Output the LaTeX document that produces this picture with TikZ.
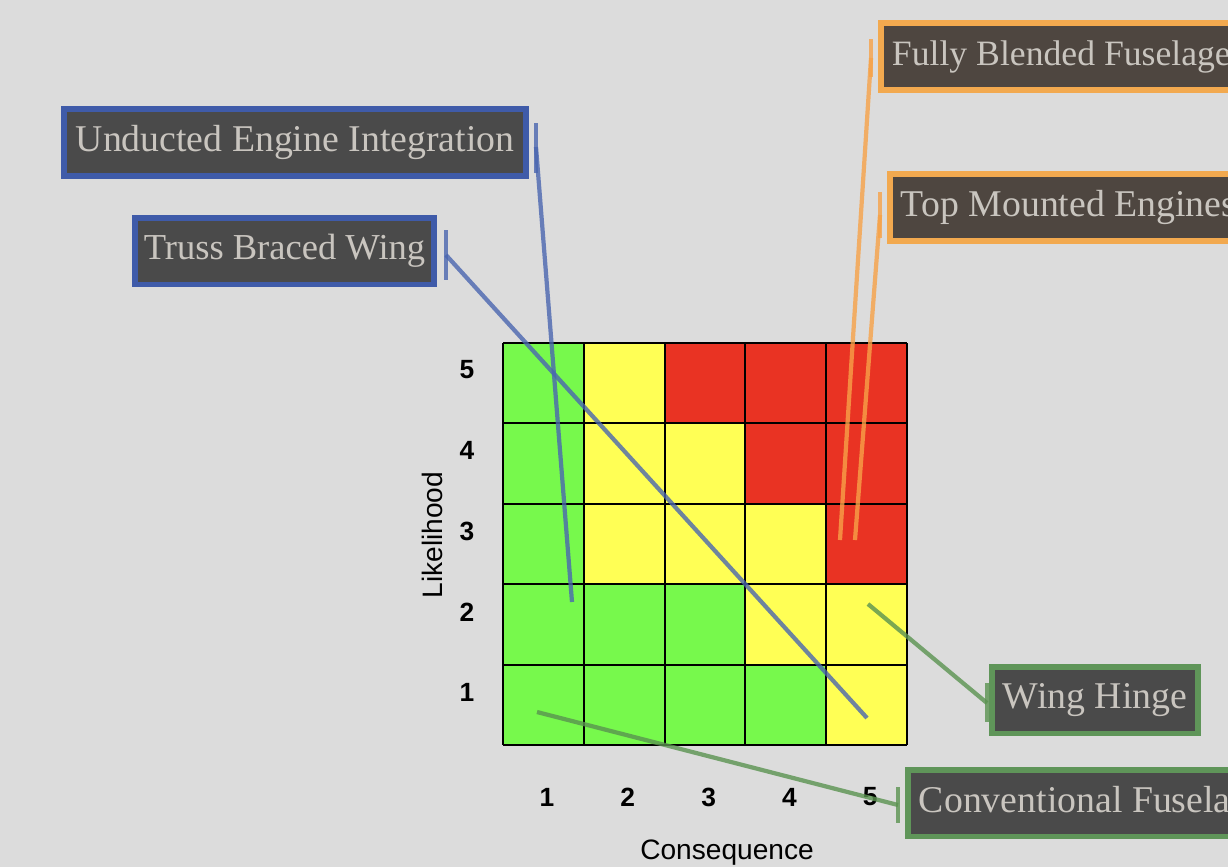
\documentclass[tikz,border=0pt]{standalone}
\usepackage{fontspec}
\setmainfont{Liberation Serif}
\setsansfont{Liberation Sans}
\usetikzlibrary{positioning}

\definecolor{bggrey}{HTML}{DCDCDC}
\definecolor{tagdark}{HTML}{4A4A4A}
\definecolor{tagbrown}{HTML}{4E4640}
\definecolor{tagtext}{HTML}{C9C5BF}
\definecolor{tagblue}{HTML}{3F5BA9}
\definecolor{tagorange}{HTML}{F2A94F}
\definecolor{taggreen}{HTML}{5F9559}
\definecolor{linkblue}{HTML}{4A66B0}
\definecolor{linkorange}{HTML}{F7A248}
\definecolor{linkgreen}{HTML}{5A9350}
\definecolor{riskG}{HTML}{77F94C}
\definecolor{riskY}{HTML}{FFFF55}
\definecolor{riskR}{HTML}{E93323}

\begin{document}
\begin{tikzpicture}[x=0.02cm, y=-0.02cm,
		tag/.style={draw, line width=3.4pt, text=tagtext, font=\fontsize{21.5}{24}\selectfont, minimum height=1.34cm, inner xsep=0.22cm, inner ysep=0pt},
		bluetag/.style={tag, draw=tagblue, fill=tagdark},
		orangetag/.style={tag, draw=tagorange, fill=tagbrown},
		greentag/.style={tag, draw=taggreen, fill=tagdark},
		link/.style={line width=2.4pt, opacity=0.8},
		bluelink/.style={link, draw=linkblue},
		orangelink/.style={link, draw=linkorange},
		greenlink/.style={link, draw=linkgreen},
		axisnum/.style={font=\sffamily\bfseries\fontsize{15}{17}\selectfont},
		axislabel/.style={font=\sffamily\fontsize{16}{18}\selectfont}
	]

	\useasboundingbox (0,0) rectangle (1228,867);
	\clip (0,0) rectangle (1228,867);
	\fill[bggrey] (0,0) rectangle (1228,867);

	% risk matrix, top row first
	\foreach \row/\cols in {0/{G,Y,R,R,R}, 1/{G,Y,Y,R,R}, 2/{G,Y,Y,Y,R}, 3/{G,G,G,Y,Y}, 4/{G,G,G,G,Y}}{
		\foreach \c [count=\i from 0] in \cols{
			\fill[risk\c] (503+80.8*\i,343+80.4*\row) rectangle ++(80.8,80.4);
		}
	}
	\foreach \i in {0,...,5}{
		\draw[line width=1.2pt] (503+80.8*\i,343) -- (503+80.8*\i,745);
		\draw[line width=1.2pt] (503,343+80.4*\i) -- (907,343+80.4*\i);
	}

	% axes
	\foreach \n [count=\i from 0] in {5,4,3,2,1}{
		\node[axisnum] (like\n) at (467,370+80.6*\i) {\n};
	}
	\foreach \n [count=\i from 0] in {1,2,3,4,5}{
		\node[axisnum] (cons\n) at (547+80.8*\i,797) {\n};
	}
	\node[axislabel, rotate=90] (likelihood) at (432,535) {Likelihood};
	\node[axislabel] (consequence) at (727,853) {Consequence};

	% labels
	\node[bluetag, minimum width=9.24cm] (ue) at (295,142.5) {Unducted Engine Integration};
	\node[bluetag, minimum width=5.98cm, inner xsep=0.1cm, font=\fontsize{20.8}{24}\selectfont] (tb) at (284.5,251) {Truss Braced Wing};
	\node[orangetag, anchor=west, font=\fontsize{20.3}{24}\selectfont] (fb) at (878,56.5) {Fully Blended Fuselage};
	\node[orangetag, anchor=west] (tm) at (887,207.5) {Top Mounted Engines};
	\node[greentag, minimum width=4.08cm] (wh) at (1095,700) {Wing Hinge};
	\node[greentag, anchor=west] (cf) at (905,803) {Conventional Fuselage};

	% connector ends
	\coordinate (ue-t) at (536,147);
	\coordinate (tb-t) at (446,255);
	\coordinate (fb-t) at (871,58);
	\coordinate (tm-t) at (880,215);
	\coordinate (wh-t) at (987,703);
	\coordinate (cf-t) at (898,805);
	\coordinate (ue-p) at (572,602);
	\coordinate (tb-p) at (867,718);
	\coordinate (fb-p) at (840,540);
	\coordinate (tm-p) at (855,540);
	\coordinate (wh-p) at (868,604);
	\coordinate (cf-p) at (537,712);

	% connectors
	\draw[bluelink] (ue-t) ++(0,-24) -- ++(0,50);
	\draw[bluelink] (ue-t) -- (ue-p);
	\draw[bluelink] (tb-t) ++(0,-25) -- ++(0,50);
	\draw[bluelink] (tb-t) -- (tb-p);
	\draw[orangelink] (fb-t) ++(0,-19) -- ++(0,38);
	\draw[orangelink] (fb-t) -- (fb-p);
	\draw[orangelink] (tm-t) ++(0,-23) -- ++(0,46);
	\draw[orangelink] (tm-t) -- (tm-p);
	\draw[greenlink] (wh-t) ++(0,-20) -- ++(0,39);
	\draw[greenlink] (wh-t) -- (wh-p);
	\draw[greenlink] (cf-t) ++(0,-18) -- ++(0,36);
	\draw[greenlink] (cf-t) -- (cf-p);

\end{tikzpicture}
\end{document}
